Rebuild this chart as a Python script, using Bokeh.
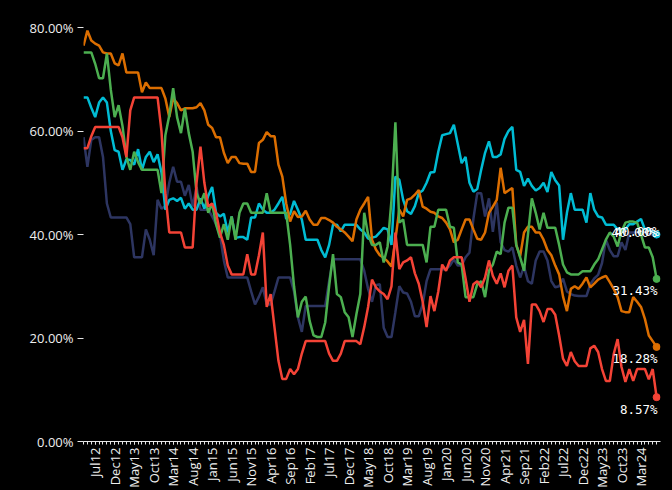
import math
from bokeh.plotting import figure
from bokeh.models import Range1d, FixedTicker, PrintfTickFormatter, ColumnDataSource
from bokeh.core.properties import value
from bokeh.embed import file_html
from bokeh.resources import INLINE

# ---------------- data ----------------
MONTH_NAMES = ["Jan", "Feb", "Mar", "Apr", "May", "Jun",
               "Jul", "Aug", "Sep", "Oct", "Nov", "Dec"]
START_YEAR, START_MONTH, N_MONTHS = 2012, 4, 148
months = []
for k in range(N_MONTHS):
    m = (START_MONTH - 1 + k) % 12
    yr = START_YEAR + (START_MONTH - 1 + k) // 12
    months.append(f"{MONTH_NAMES[m]}{yr % 100:02d}")

tick_labels = ["Jul12", "Dec12", "May13", "Oct13", "Mar14", "Aug14", "Jan15",
               "Jun15", "Nov15", "Apr16", "Sep16", "Feb17", "Jul17", "Dec17",
               "May18", "Oct18", "Mar19", "Aug19", "Jan20", "Jun20", "Nov20",
               "Apr21", "Sep21", "Feb22", "Jul22", "Dec22", "May23", "Oct23",
               "Mar24"]
y_ticks = [0, 20, 40, 60, 80]

orange = [76.5, 79.4, 77.5, 76.9, 76.5, 75.2, 75.0, 75.0, 73.1, 72.7,
          75.0, 71.3, 71.3, 71.3, 71.3, 67.5, 69.4, 68.3, 68.3, 68.3,
          68.3, 66.3, 62.7, 66.3, 65.4, 64.0, 64.4, 64.4, 64.4, 64.6,
          65.4, 64.0, 61.2, 60.6, 58.8, 58.8, 55.8, 53.8, 55.0, 55.0,
          53.8, 53.7, 53.7, 52.1, 52.1, 57.7, 58.3, 59.8, 59.0, 59.0,
          53.5, 51.2, 46.0, 42.5, 44.5, 43.4, 43.5, 44.6, 42.9, 41.9,
          41.9, 43.2, 43.2, 42.8, 42.3, 41.5, 41.0, 40.4, 39.6, 38.7,
          42.9, 44.8, 46.0, 47.3, 39.0, 37.1, 36.0, 35.5, 34.8, 33.8,
          39.0, 44.8, 43.5, 46.7, 47.0, 47.7, 48.6, 45.4, 45.0, 44.4,
          44.2, 43.5, 43.2, 42.3, 41.0, 38.5, 39.0, 41.0, 42.9, 42.9,
          41.0, 39.2, 39.0, 40.4, 44.2, 45.4, 46.7, 52.9, 48.0, 48.5,
          49.0, 38.0, 35.8, 40.4, 41.5, 41.5, 40.4, 40.4, 39.0, 37.0,
          36.0, 34.0, 32.3, 28.0, 25.2, 29.5, 30.0, 29.5, 30.5, 31.7,
          29.8, 30.5, 31.3, 31.7, 32.0, 30.8, 29.5, 27.9, 25.2, 25.0,
          25.0, 27.9, 27.0, 26.0, 23.7, 20.5, 19.4, 18.28]

green = [75.2, 75.2, 75.2, 73.0, 70.2, 70.2, 75.0, 68.0, 62.7, 65.0,
         61.0, 55.0, 52.5, 56.0, 54.0, 52.5, 52.5, 52.5, 52.5, 52.5,
         48.0, 59.2, 63.0, 68.3, 62.7, 59.6, 64.4, 59.6, 56.0, 48.0,
         46.0, 48.0, 44.2, 46.0, 42.0, 39.4, 42.0, 39.0, 43.5, 39.0,
         44.2, 46.0, 46.0, 44.2, 44.2, 44.2, 44.2, 48.0, 44.2, 44.2,
         44.2, 44.2, 44.2, 38.0, 30.0, 24.0, 27.0, 28.0, 23.3, 20.5,
         20.2, 20.2, 23.0, 30.0, 36.2, 28.5, 27.9, 25.0, 24.0, 20.2,
         24.6, 28.5, 44.2, 40.0, 38.0, 38.0, 38.5, 34.6, 37.7, 46.7,
         61.7, 42.3, 42.9, 38.0, 38.0, 38.0, 38.0, 38.0, 34.6, 41.5,
         41.5, 44.8, 44.8, 44.8, 41.5, 41.3, 34.6, 34.2, 27.9, 27.9,
         27.9, 30.4, 31.0, 27.9, 33.0, 34.2, 36.7, 36.2, 42.3, 45.2,
         45.2, 38.0, 35.6, 33.0, 40.0, 47.0, 44.2, 41.0, 44.2, 41.3,
         41.3, 41.3, 38.0, 34.2, 32.7, 32.3, 32.3, 32.3, 32.9, 32.9,
         32.9, 34.2, 35.2, 37.1, 39.0, 40.4, 39.6, 37.7, 40.6, 42.3,
         42.5, 42.5, 42.3, 40.0, 37.5, 37.5, 35.6, 31.43]

cyan = [66.5, 66.5, 64.5, 62.7, 65.5, 66.5, 65.5, 60.0, 56.3, 56.0,
        52.5, 54.5, 54.4, 53.5, 56.5, 52.5, 55.0, 56.0, 54.0, 55.5,
        52.0, 44.8, 46.7, 47.0, 46.5, 47.1, 45.0, 46.0, 44.8, 44.8,
        47.0, 45.0, 47.5, 49.2, 44.2, 43.5, 44.0, 40.4, 43.5, 39.4,
        39.5, 39.5, 39.0, 43.3, 43.3, 46.0, 44.8, 44.2, 44.2, 44.8,
        46.0, 47.3, 43.0, 44.0, 46.5, 44.8, 42.9, 39.0, 39.0, 39.0,
        39.0, 37.0, 35.6, 38.0, 41.9, 41.9, 40.6, 41.9, 41.9, 41.9,
        41.9, 41.0, 40.4, 39.2, 39.4, 39.6, 40.4, 41.3, 41.0, 38.0,
        51.2, 50.6, 46.7, 44.5, 44.0, 45.5, 48.0, 48.5, 50.0, 52.0,
        52.1, 56.0, 59.2, 59.4, 59.6, 61.2, 57.5, 53.8, 55.0, 50.0,
        48.3, 48.8, 52.5, 55.8, 58.0, 55.0, 55.0, 55.5, 58.5, 60.0,
        60.8, 52.5, 52.1, 49.4, 50.8, 49.4, 48.5, 49.0, 50.0, 48.2,
        52.1, 50.5, 49.5, 39.0, 44.2, 48.0, 44.8, 44.8, 44.8, 42.3,
        48.0, 44.8, 43.5, 43.3, 41.9, 41.9, 41.9, 41.0, 41.0, 41.0,
        42.0, 42.0, 42.5, 43.0, 41.0, 41.0, 40.5, 40.0]

navy = [58.8, 53.1, 58.3, 58.8, 58.8, 55.0, 46.0, 43.3, 43.3, 43.3,
        43.3, 43.3, 42.0, 35.6, 35.6, 35.6, 41.0, 39.0, 36.0, 46.7,
        45.0, 45.5, 50.0, 53.1, 50.2, 50.2, 47.5, 49.6, 45.4, 49.2,
        44.8, 44.8, 44.8, 43.5, 42.0, 40.0, 35.0, 31.7, 31.7, 31.7,
        31.7, 31.7, 31.7, 29.0, 26.5, 28.0, 29.8, 26.5, 26.5, 29.0,
        31.7, 31.7, 31.7, 31.7, 29.0, 24.0, 21.2, 26.2, 26.2, 26.2,
        26.2, 26.2, 26.2, 31.0, 35.2, 35.2, 35.2, 35.2, 35.2, 35.2,
        35.2, 35.2, 33.0, 29.5, 27.0, 30.2, 30.4, 22.0, 20.2, 20.2,
        25.0, 30.0, 28.8, 28.6, 27.0, 24.2, 24.2, 26.5, 31.0, 33.3,
        33.3, 33.3, 33.3, 33.3, 34.0, 35.2, 34.0, 34.0, 35.6, 36.5,
        43.0, 48.0, 48.0, 43.5, 47.0, 40.5, 46.2, 38.5, 37.0, 36.7,
        37.5, 34.0, 31.7, 33.8, 31.0, 30.5, 35.0, 36.7, 36.7, 35.0,
        31.0, 29.8, 30.0, 31.5, 29.0, 28.5, 28.2, 28.1, 28.1, 28.1,
        30.4, 31.5, 32.2, 34.5, 39.0, 37.0, 35.8, 35.8, 38.5, 37.0,
        40.4, 40.4, 40.4, 40.4, 40.4, 40.0, 40.0, 40.0]

red = [56.7, 56.7, 59.0, 60.8, 60.8, 60.8, 60.8, 60.8, 60.8, 60.8,
       58.8, 55.0, 64.0, 66.5, 66.5, 66.5, 66.5, 66.5, 66.5, 66.5,
       60.0, 48.0, 40.4, 40.4, 40.4, 40.4, 37.5, 37.5, 37.5, 50.0,
       57.0, 50.0, 45.4, 46.0, 44.2, 40.4, 38.0, 34.0, 32.3, 32.3,
       32.3, 32.3, 36.2, 32.3, 32.3, 36.0, 40.4, 26.0, 28.5, 22.0,
       15.6, 12.1, 12.1, 14.0, 13.0, 14.0, 17.0, 19.4, 19.4, 19.4,
       19.4, 19.4, 19.4, 17.0, 15.6, 15.6, 17.0, 19.4, 19.4, 19.4,
       19.4, 18.8, 22.1, 26.0, 31.3, 29.8, 29.0, 28.5, 27.5, 30.0,
       40.4, 33.3, 34.6, 35.0, 35.6, 32.5, 30.5, 27.0, 22.1, 28.1,
       25.2, 29.0, 34.2, 33.0, 35.0, 35.6, 35.6, 35.6, 31.5, 27.0,
       30.4, 31.0, 29.8, 31.7, 35.0, 32.0, 30.5, 32.5, 29.8, 33.0,
       34.0, 24.0, 21.2, 23.5, 15.0, 26.5, 26.5, 25.2, 23.1, 25.6,
       25.6, 24.5, 20.5, 16.0, 14.6, 17.3, 15.5, 14.6, 14.6, 14.6,
       18.0, 18.5, 17.3, 14.0, 11.7, 11.7, 16.9, 19.8, 14.4, 11.5,
       14.0, 11.7, 14.0, 14.0, 14.0, 12.0, 14.0, 8.57]

# ---------------- styling ----------------
series = [
    ("navy", navy, "#2D3561"),
    ("cyan", cyan, "#00BCD4"),
    ("orange", orange, "#DC6E00"),
    ("green", green, "#4CAF50"),
    ("red", red, "#F44336"),
]
label_offsets = {"navy": (3, -3), "cyan": (0, -2), "orange": (1, 12),
                 "green": (1, 12), "red": (1, 12)}

x = list(range(N_MONTHS))
tick_pos = [months.index(lbl) for lbl in tick_labels]

p = figure(width=672, height=490, output_backend="svg", toolbar_location=None,
           x_range=Range1d(0, 148), y_range=Range1d(0, 83.3),
           min_border_left=83, min_border_right=12, min_border_top=10,
           min_border_bottom=10,
           background_fill_color="black", border_fill_color="black")
p.outline_line_color = None
p.xgrid.visible = False
p.ygrid.visible = False

AX_COLOR = "#e6e6e6"
TXT_COLOR = "#eeeeee"

yax = p.yaxis[0]
yax.ticker = FixedTicker(ticks=y_ticks)
yax.formatter = PrintfTickFormatter(format="%.2f%%")
yax.axis_line_color = None
yax.major_tick_line_color = AX_COLOR
yax.major_tick_out = 6
yax.major_tick_in = 0
yax.minor_tick_line_color = None
yax.major_label_text_color = TXT_COLOR
yax.major_label_text_font = "Open Sans"
yax.major_label_text_font_size = "13px"
yax.major_label_standoff = 4

xax = p.xaxis[0]
xax.ticker = FixedTicker(ticks=tick_pos, minor_ticks=x)
xax.major_label_overrides = {pos: lbl for pos, lbl in zip(tick_pos, tick_labels)}
xax.major_label_orientation = math.pi / 2
xax.axis_line_color = AX_COLOR
xax.axis_line_width = 1
xax.major_tick_line_color = AX_COLOR
xax.minor_tick_line_color = AX_COLOR
xax.major_tick_out = 3
xax.major_tick_in = 0
xax.minor_tick_out = 3
xax.minor_tick_in = 0
xax.major_label_text_color = TXT_COLOR
xax.major_label_text_font = "Open Sans"
xax.major_label_text_font_size = "13px"
xax.major_label_standoff = 3

for name, vals, color in series:
    src = ColumnDataSource(dict(x=x, y=vals))
    p.line("x", "y", source=src, line_color=color, line_width=2.5)

last_x = [x[-1]] * len(series)
last_y = [vals[-1] for _, vals, _ in series]
colors = [c for _, _, c in series]
p.scatter(last_x, last_y, size=7, color=colors)

lab_src = ColumnDataSource(dict(
    x=last_x, y=last_y,
    text=[f"{v:.2f}%" for v in last_y],
    xo=[label_offsets[n][0] for n, _, _ in series],
    yo=[label_offsets[n][1] for n, _, _ in series],
))
p.text("x", "y", text="text", source=lab_src, x_offset="xo", y_offset="yo",
       text_align="right", text_baseline="middle", text_color="white",
       text_font=value("DejaVu Sans Mono"), text_font_size="12.5px")

html = file_html(p, INLINE)
html = html.replace("</head>", "<style>html,body{background:#000;}</style></head>", 1)
open("out.html", "w").write(html)
